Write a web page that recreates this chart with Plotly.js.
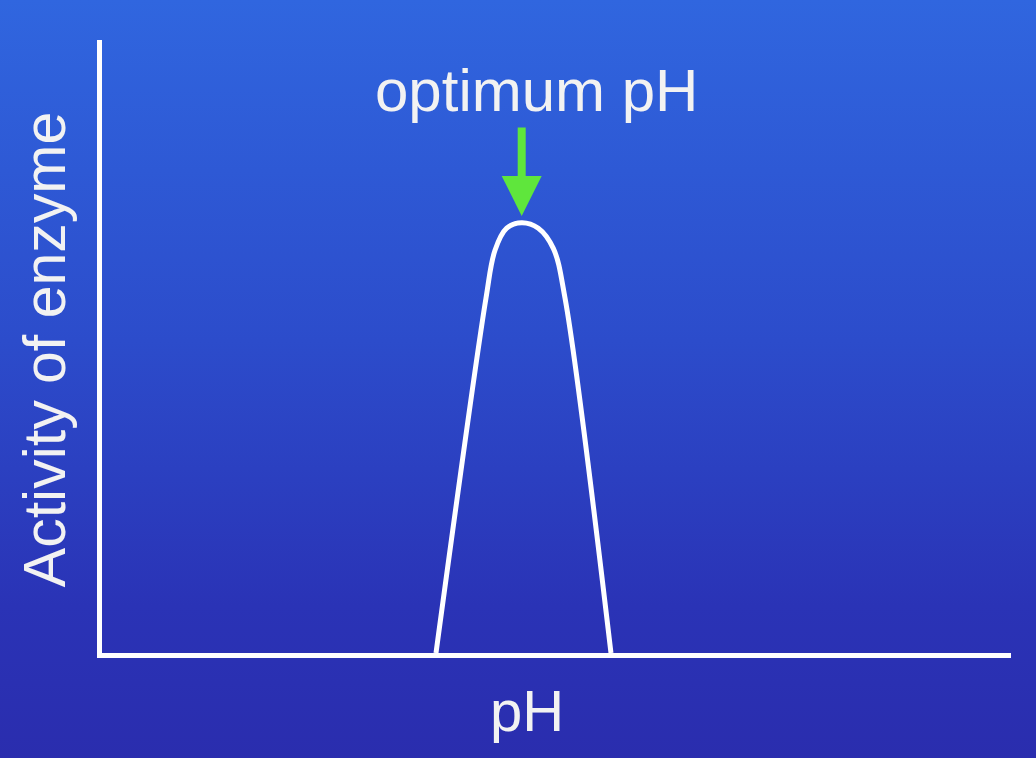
<!DOCTYPE html>
<html>
<head>
<meta charset="utf-8">
<script src="https://cdn.plot.ly/plotly-3.0.1.min.js"></script>
<style>
  html, body { margin: 0; padding: 0; }
  body {
    width: 1036px; height: 758px; overflow: hidden;
    background: linear-gradient(to bottom, #3066df 0%, #2c4ccb 45%, #2a33b6 80%, #2a2dae 100%);
  }
  #enzyme-plot { width: 1036px; height: 758px; }
</style>
</head>
<body>
<div id="enzyme-plot"></div>
<script>
// pH values along the curve
var ph_values = [5.144, 5.914, 6.053, 6.233, 6.464, 6.720, 6.951, 7.131, 7.839];
// enzyme activity (arbitrary units, 0-100)
var activity = [0, 57.9, 65.7, 69.3, 70.2, 69.3, 66.0, 57.9, 0];

var optimum_ph = 6.464;
var optimum_tip = 71.3;

var label_font = "Liberation Sans, Arial, Helvetica, sans-serif";
var text_color = '#f2f2f2';

function init_enzyme_plot(){
    var curve = {
        x: ph_values,
        y: activity,
        type: 'scatter',
        mode: 'lines',
        line: {
            color: '#ffffff',
            width: 5,
            shape: 'spline',
            smoothing: 1
        },
        cliponaxis: false,
        hoverinfo: 'skip',
        showlegend: false
    };

    var layout = {
        width: 1036,
        height: 758,
        margin: {l: 102, r: 25, t: 40, b: 105},
        paper_bgcolor: 'rgba(0,0,0,0)',
        plot_bgcolor: 'rgba(0,0,0,0)',
        showlegend: false,
        xaxis: {
            range: [0, 14],
            showline: true,
            linecolor: '#ffffff',
            linewidth: 5,
            showgrid: false,
            zeroline: false,
            showticklabels: false,
            ticks: ''
        },
        yaxis: {
            range: [0, 100],
            showline: true,
            linecolor: '#ffffff',
            linewidth: 5,
            showgrid: false,
            zeroline: false,
            showticklabels: false,
            ticks: ''
        },
        annotations: [
            {   // green arrow pointing at the peak
                x: optimum_ph, y: optimum_tip,
                xref: 'x', yref: 'y',
                ax: 0, ay: -90,
                text: '',
                showarrow: true,
                arrowhead: 2,
                arrowsize: 1,
                arrowwidth: 8,
                arrowcolor: '#5fe63c'
            },
            {
                text: 'optimum pH',
                xref: 'paper', yref: 'paper',
                x: 0.4785, y: 0.918,
                xanchor: 'center', yanchor: 'middle',
                showarrow: false,
                font: {family: label_font, size: 60, color: text_color}
            },
            {
                text: 'pH',
                xref: 'paper', yref: 'paper',
                x: 0.4675, y: -0.093,
                xanchor: 'center', yanchor: 'middle',
                showarrow: false,
                font: {family: label_font, size: 58, color: text_color}
            },
            {
                text: 'Activity of enzyme',
                xref: 'paper', yref: 'paper',
                x: -0.0627, y: 0.494,
                xanchor: 'center', yanchor: 'middle',
                textangle: -90,
                showarrow: false,
                font: {family: label_font, size: 59, color: text_color}
            }
        ]
    };

    Plotly.newPlot('enzyme-plot', [curve], layout, {displayModeBar: false, staticPlot: true});
}

init_enzyme_plot();
</script>
</body>
</html>
